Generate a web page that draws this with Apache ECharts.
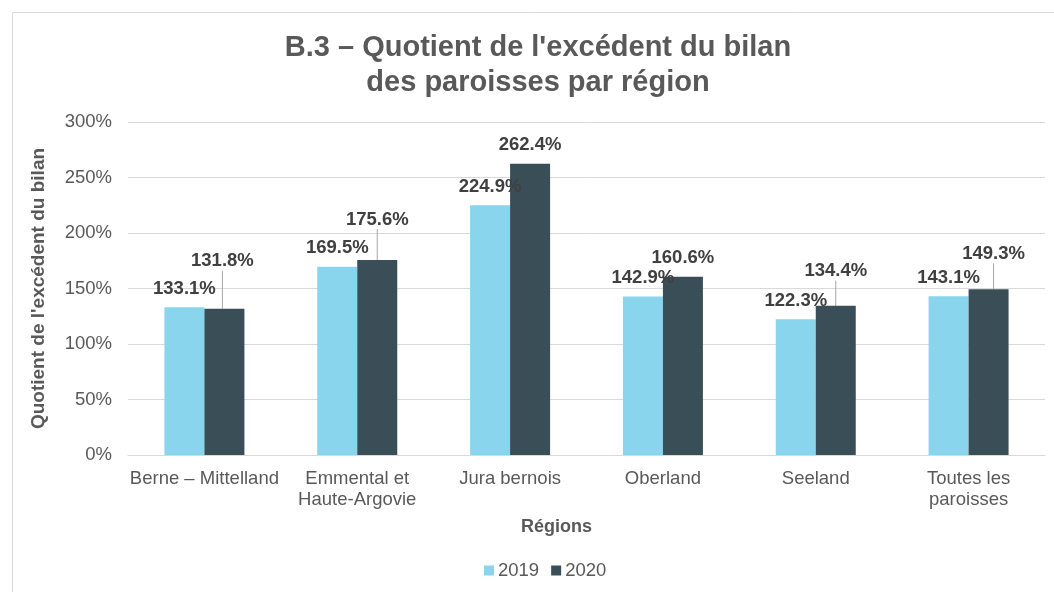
<!DOCTYPE html>
<html>
<head>
<meta charset="utf-8">
<script src="https://cdn.jsdelivr.net/npm/echarts@6/dist/echarts.min.js"></script>
<style>
  html, body { margin: 0; padding: 0; background: #fff; }
  #chart { width: 1054px; height: 592px; }
</style>
</head>
<body>
<div id="chart"></div>
<script>
// data
const regions = ['Berne – Mittelland', 'Emmental et\nHaute-Argovie', 'Jura bernois', 'Oberland', 'Seeland', 'Toutes les\nparoisses']
const values2019 = [133.1, 169.5, 224.9, 142.9, 122.3, 143.1]
const values2020 = [131.8, 175.6, 262.4, 160.6, 134.4, 149.3]
const yTicks = [0, 50, 100, 150, 200, 250, 300]

// how far the 2020 labels sit above their bars (leader lines in the original)
const lift2020 = [29, 22, 0, 0, 16, 17]
const shift2020 = [-2, 0, 0, 0, 0, 5]

const grey = '#595959'
const font = 'Liberation Sans, Arial, sans-serif'

const chart = echarts.init(document.getElementById('chart'))
const option = {
  animation: false,
  textStyle: { fontFamily: font },
  graphic: [
    {
      type: 'rect',
      shape: { x: 12.5, y: 12.5, width: 1100, height: 700 },
      style: { fill: 'none', stroke: '#d9d9d9', lineWidth: 1 }
    }
  ],
  title: {
    text: "B.3 – Quotient de l'excédent du bilan\ndes paroisses par région",
    left: 533,
    top: 25,
    textAlign: 'center',
    textStyle: {
      fontFamily: font,
      fontSize: 29,
      fontWeight: 'bold',
      color: grey,
      lineHeight: 35
    }
  },
  legend: {
    bottom: 7,
    left: 479,
    itemWidth: 10,
    itemHeight: 10,
    itemGap: 12,
    icon: 'rect',
    data: ['2019', '2020'],
    textStyle: { fontFamily: font, fontSize: 18.5, color: grey, padding: [0, 0, 0, -1] }
  },
  grid: {
    left: 128,
    right: 9,
    top: 122,
    bottom: 137
  },
  xAxis: {
    type: 'category',
    data: regions,
    name: 'Régions',
    nameLocation: 'middle',
    nameGap: 63,
    nameTextStyle: {
      fontFamily: font,
      fontSize: 18,
      fontWeight: 'bold',
      color: grey,
      padding: [0, 60, 0, 0]
    },
    axisLine: { lineStyle: { color: '#d9d9d9' } },
    axisTick: { show: false },
    axisLabel: {
      fontFamily: font,
      fontSize: 18.5,
      color: grey,
      margin: 13,
      lineHeight: 21,
      interval: 0
    }
  },
  yAxis: {
    type: 'value',
    min: yTicks[0],
    max: yTicks[yTicks.length - 1],
    interval: 50,
    name: "Quotient de l'excédent du bilan",
    nameLocation: 'middle',
    nameGap: 80,
    nameTextStyle: {
      fontFamily: font,
      fontSize: 19,
      fontWeight: 'bold',
      color: grey
    },
    axisLine: { show: false },
    axisTick: { show: false },
    splitLine: { lineStyle: { color: '#d9d9d9' } },
    axisLabel: {
      fontFamily: font,
      fontSize: 18.5,
      color: grey,
      margin: 16,
      formatter: v => v + '%'
    }
  },
  series: [
    {
      name: '2019',
      type: 'bar',
      data: values2019,
      barWidth: 40,
      barGap: '0%',
      itemStyle: { color: '#8ad5ee' },
      label: {
        show: true,
        position: 'top',
        distance: 9,
        fontFamily: font,
        fontSize: 18.5,
        fontWeight: 'bold',
        color: '#404040',
        formatter: p => p.value.toFixed(1) + '%'
      }
    },
    {
      name: '2020',
      type: 'bar',
      // leader line only where the label was pulled away from the bar
      data: values2020.map((v, i) => lift2020[i] ? v : { value: v, labelLine: { show: false } }),
      barWidth: 40,
      barGap: '0%',
      itemStyle: { color: '#3a4e58' },
      label: {
        show: true,
        position: 'top',
        distance: 9,
        fontFamily: font,
        fontSize: 18.5,
        fontWeight: 'bold',
        color: '#404040',
        formatter: p => p.value.toFixed(1) + '%'
      },
      labelLine: {
        show: true,
        lineStyle: { color: '#a6a6a6', width: 1 }
      },
      labelLayout: p => ({
        dy: -lift2020[p.dataIndex],
        dx: shift2020[p.dataIndex]
      })
    }
  ]
}
chart.setOption(option)
</script>
</body>
</html>
